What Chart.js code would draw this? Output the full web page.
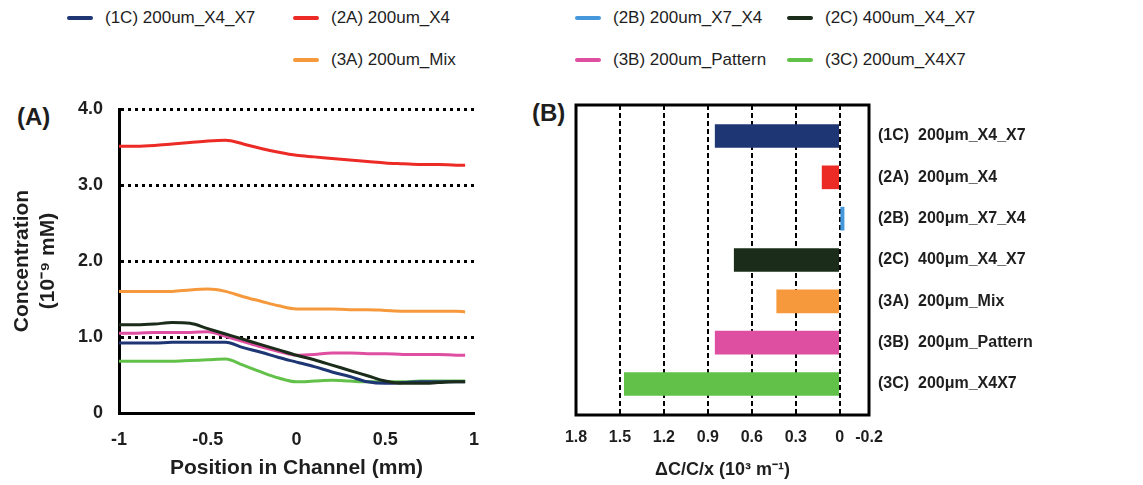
<!DOCTYPE html>
<html>
<head>
<meta charset="utf-8">
<script src="https://cdn.jsdelivr.net/npm/chart.js@4"></script>
<style>
  body { margin: 0; width: 1143px; height: 485px; background: #fff; position: relative; overflow: hidden;
         font-family: "Liberation Sans", Arial, sans-serif; color: #1e1e1e; }
  .box { position: absolute; }
  .leg-text { position: absolute; font-size: 17px; line-height: 20px; white-space: nowrap; }
  .leg-line { position: absolute; width: 26px; height: 4px; border-radius: 2px; }
  .panel { position: absolute; font-weight: bold; font-size: 24px; line-height: 28px; }
</style>
</head>
<body>
<div id="legend"></div>
<div class="panel" style="left:17px;top:103px">(A)</div>
<div class="panel" style="left:532px;top:99px">(B)</div>
<div class="box" style="left:0;top:80px;width:520px;height:405px"><canvas id="profileChart"></canvas></div>
<div class="box" style="left:520px;top:80px;width:623px;height:405px"><canvas id="gradientChart"></canvas></div>
<script>
// series names + colours (shared by legend, lines and bars)
const seriesNames = ['(1C) 200um_X4_X7', '(2A) 200um_X4', '(2B) 200um_X7_X4', '(2C) 400um_X4_X7',
                     '(3A) 200um_Mix', '(3B) 200um_Pattern', '(3C) 200um_X4X7'];
const seriesColors = ['#1f3674', '#ec2a26', '#4598dc', '#1b2c1a', '#f6993c', '#de4fa2', '#62c148'];

// (A) concentration profiles, position in mm
const positions = [-1, -0.9, -0.8, -0.7, -0.6, -0.5, -0.4, -0.3, -0.2, -0.1, 0,
                   0.1, 0.2, 0.3, 0.4, 0.5, 0.6, 0.7, 0.8, 0.9, 0.95];
const conc1C = [0.92, 0.92, 0.92, 0.93, 0.93, 0.93, 0.93, 0.86, 0.80, 0.73, 0.67,
                0.61, 0.54, 0.48, 0.41, 0.39, 0.40, 0.41, 0.41, 0.41, 0.41];
const conc2A = [3.51, 3.51, 3.52, 3.54, 3.56, 3.58, 3.59, 3.54, 3.48, 3.43, 3.39,
                3.37, 3.35, 3.33, 3.31, 3.29, 3.28, 3.27, 3.27, 3.26, 3.26];
const conc2C = [1.16, 1.16, 1.17, 1.19, 1.18, 1.11, 1.04, 0.97, 0.90, 0.83, 0.76,
                0.70, 0.63, 0.56, 0.49, 0.42, 0.39, 0.39, 0.40, 0.41, 0.41];
const conc3A = [1.60, 1.60, 1.60, 1.60, 1.62, 1.63, 1.60, 1.53, 1.47, 1.41, 1.37,
                1.37, 1.37, 1.36, 1.36, 1.35, 1.34, 1.34, 1.34, 1.34, 1.33];
const conc3B = [1.05, 1.05, 1.06, 1.06, 1.06, 1.07, 1.01, 0.94, 0.87, 0.81, 0.76,
                0.77, 0.79, 0.79, 0.78, 0.78, 0.77, 0.77, 0.77, 0.76, 0.76];
const conc3C = [0.68, 0.68, 0.68, 0.68, 0.69, 0.70, 0.71, 0.63, 0.54, 0.46, 0.41,
                0.42, 0.43, 0.42, 0.41, 0.41, 0.41, 0.42, 0.42, 0.42, 0.42];
const concTicks = [0, 1, 2, 3, 4];
const positionTicks = [-1, -0.5, 0, 0.5, 1];

// (B) gradient dC/C/x, 10^3 m^-1
const gradLabels = ['(1C)  200μm_X4_X7', '(2A)  200μm_X4', '(2B)  200μm_X7_X4', '(2C)  400μm_X4_X7',
                    '(3A)  200μm_Mix', '(3B)  200μm_Pattern', '(3C)  200μm_X4X7'];
const gradValues = [0.85, 0.12, -0.03, 0.72, 0.43, 0.85, 1.47];
const gradTicks = [-0.2, 0, 0.3, 0.6, 0.9, 1.2, 1.5, 1.8];

Chart.defaults.font.family = '"Liberation Sans", Arial, sans-serif';
Chart.defaults.color = '#1e1e1e';
Chart.defaults.animation = false;

// legend (4 slots on top row, 3 on bottom row shifted one column)
const legendCols = [67, 293, 575, 787];
const legendRows = [18, 60];
const legendSlots = [[0, 0], [1, 0], [2, 0], [3, 0], [1, 1], [2, 1], [3, 1]];
const legendEl = document.getElementById('legend');
seriesNames.forEach(function (name, i) {
  const x = legendCols[legendSlots[i][0]], y = legendRows[legendSlots[i][1]];
  const line = document.createElement('div');
  line.className = 'leg-line';
  line.style.left = x + 'px'; line.style.top = (y - 2) + 'px'; line.style.background = seriesColors[i];
  const txt = document.createElement('div');
  txt.className = 'leg-text';
  txt.style.left = (x + 38) + 'px'; txt.style.top = (y - 10) + 'px';
  txt.textContent = name;
  legendEl.appendChild(line); legendEl.appendChild(txt);
});

function toPoints(ys) {
  return ys.map(function (y, i) { return { x: positions[i], y: y }; });
}

// Concentration profiles

const profileElement = document.getElementById('profileChart');
if (profileElement) {
  const lineStyle = { borderWidth: 3, pointRadius: 0, cubicInterpolationMode: 'monotone', fill: false };
  new Chart(profileElement.getContext('2d'), {
    type: 'line',
    data: {
      datasets: [
        Object.assign({ label: seriesNames[3], data: toPoints(conc2C), borderColor: seriesColors[3], order: 0 }, lineStyle),
        Object.assign({ label: seriesNames[0], data: toPoints(conc1C), borderColor: seriesColors[0], order: 1 }, lineStyle),
        Object.assign({ label: seriesNames[5], data: toPoints(conc3B), borderColor: seriesColors[5], order: 2 }, lineStyle),
        Object.assign({ label: seriesNames[6], data: toPoints(conc3C), borderColor: seriesColors[6], order: 3 }, lineStyle),
        Object.assign({ label: seriesNames[4], data: toPoints(conc3A), borderColor: seriesColors[4], order: 4 }, lineStyle),
        Object.assign({ label: seriesNames[1], data: toPoints(conc2A), borderColor: seriesColors[1], order: 5 }, lineStyle)
      ]
    },
    options: {
      responsive: true,
      maintainAspectRatio: false,
      layout: { padding: { top: 29, right: 46, left: 0, bottom: 0 } },
      plugins: { legend: { display: false }, tooltip: { enabled: false } },
      scales: {
        x: {
          type: 'linear', min: -1, max: 1,
          afterBuildTicks: function (scale) { scale.ticks = positionTicks.map(function (v) { return { value: v }; }); },
          ticks: {
            padding: 16, font: { size: 18, weight: 'bold' },
            callback: function (v) { return String(v); }
          },
          grid: { display: false, drawTicks: false },
          border: { display: true, color: '#000', width: 3 },
          title: { display: true, text: 'Position in Channel (mm)', font: { size: 21, weight: 'bold' },
                   padding: { top: 0, bottom: 4 } },
          afterFit: function (scale) { scale.height = 72; }
        },
        y: {
          type: 'linear', min: 0, max: 4,
          afterBuildTicks: function (scale) { scale.ticks = concTicks.map(function (v) { return { value: v }; }); },
          ticks: {
            padding: 16, font: { size: 18, weight: 'bold' },
            callback: function (v) { return v === 0 ? '0' : v.toFixed(1); }
          },
          grid: {
            drawTicks: false, lineWidth: 3,
            color: function (c) { return c.tick && c.tick.value === 0 ? 'rgba(0,0,0,0)' : '#000'; }
          },
          border: { display: true, color: '#000', width: 3, dash: [3, 4] },
          title: { display: true, text: ['Concentration', '(10⁻⁹ mM)'], font: { size: 21, weight: 'bold' },
                   padding: { top: 10, bottom: 0 } },
          afterFit: function (scale) { scale.width = 119; }
        }
      }
    }
  });
}

// Gradient bars

const frameBox = {
  id: 'frameBox',
  afterDraw: function (chart) {
    const a = chart.chartArea, ctx = chart.ctx;
    ctx.save();
    ctx.lineWidth = 3;
    ctx.strokeStyle = '#000';
    ctx.strokeRect(a.left, a.top, a.right - a.left, a.bottom - a.top);
    ctx.restore();
  }
};

const gradientElement = document.getElementById('gradientChart');
if (gradientElement) {
  new Chart(gradientElement.getContext('2d'), {
    type: 'bar',
    data: {
      datasets: [{
        label: 'dC/C/x',
        data: gradValues.map(function (v, i) { return { x: v, y: i }; }),
        backgroundColor: seriesColors,
        borderWidth: 0,
        barThickness: 23
      }]
    },
    options: {
      indexAxis: 'y',
      responsive: true,
      maintainAspectRatio: false,
      layout: { padding: { top: 25, right: 0, left: 56, bottom: 0 } },
      plugins: { legend: { display: false }, tooltip: { enabled: false } },
      scales: {
        x: {
          type: 'linear', min: -0.2, max: 1.8, reverse: true,
          afterBuildTicks: function (scale) { scale.ticks = gradTicks.map(function (v) { return { value: v }; }); },
          ticks: {
            padding: 13, font: { size: 16, weight: 'bold' },
            callback: function (v) { return v === 0 ? '0' : v.toFixed(1); }
          },
          grid: {
            drawTicks: false, lineWidth: 2,
            color: function (c) {
              return c.tick && (c.tick.value === -0.2 || c.tick.value === 1.8) ? 'rgba(0,0,0,0)' : '#000';
            }
          },
          border: { display: false, dash: [5, 3] },
          title: { display: true, text: 'ΔC/C/x (10³ m⁻¹)', font: { size: 18, weight: 'bold' },
                   padding: { top: 0, bottom: 4 } },
          afterFit: function (scale) { scale.height = 70; }
        },
        y: {
          type: 'linear', position: 'right', min: -0.75, max: 6.75, reverse: true, offset: false,
          afterBuildTicks: function (scale) { scale.ticks = gradLabels.map(function (l, i) { return { value: i }; }); },
          ticks: {
            padding: 9, font: { size: 16, weight: 'bold' },
            callback: function (v) { return gradLabels[v]; }
          },
          grid: { display: false, drawTicks: false, offset: false },
          border: { display: false },
          afterFit: function (scale) { scale.width = 274; }
        }
      }
    },
    plugins: [frameBox]
  });
}
</script>
</body>
</html>
